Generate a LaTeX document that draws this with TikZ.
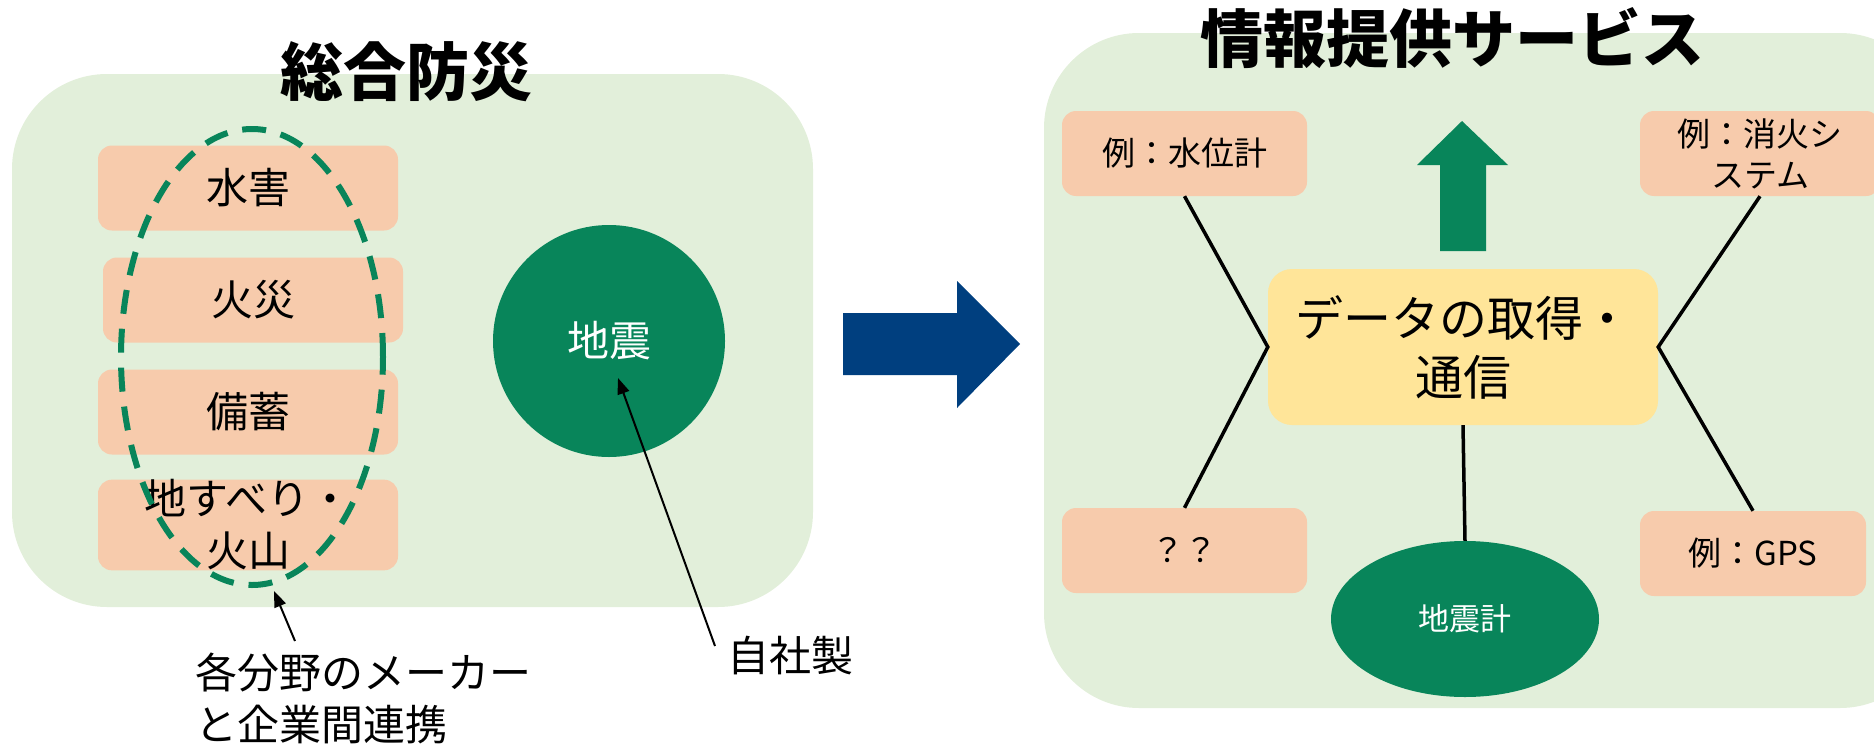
\documentclass[tikz,border=0pt]{standalone}
\usepackage{fontspec}
\setmainfont{Noto Sans CJK JP}
\usetikzlibrary{shapes.geometric,arrows.meta}
\definecolor{panel}{RGB}{226,239,218}
\definecolor{salmon}{RGB}{247,203,172}
\definecolor{dgreen}{RGB}{8,133,90}
\definecolor{yel}{RGB}{255,229,153}
\definecolor{navy}{RGB}{0,63,127}
\tikzset{
  panelbox/.style={fill=panel, rounded corners=95pt},
  title/.style={font=\fontsize{63}{70}\selectfont\bfseries, inner sep=0pt},
  sbox/.style={fill=salmon, rounded corners=14pt, minimum width=300pt, minimum height=85pt, inner sep=0pt, align=center, font=\fontsize{42}{52}\selectfont},
  rbox/.style={fill=salmon, rounded corners=14pt, minimum height=85pt, inner sep=0pt, align=center, font=\fontsize{33}{41}\selectfont},
  dashell/.style={ellipse, draw=dgreen, line width=6pt, dash pattern=on 24pt off 15pt, minimum width=262pt, minimum height=456pt, inner sep=0pt},
  circ/.style={circle, fill=dgreen, text=white, minimum size=232pt, inner sep=0pt, font=\fontsize{42}{50}\selectfont},
  lab/.style={inner sep=0pt, font=\fontsize{42}{52}\selectfont},
  ptr/.style={line width=2pt, -{Triangle[length=16pt,width=12pt]}},
  conn/.style={line width=3.5pt},
  databox/.style={fill=yel, rounded corners=24pt, minimum width=390pt, minimum height=156pt, inner sep=0pt, align=center, font=\fontsize{48}{59}\selectfont},
  sell/.style={ellipse, fill=dgreen, text=white, minimum width=268pt, minimum height=156pt, inner sep=0pt, font=\fontsize{31}{38}\selectfont}
}
\begin{document}
\begin{tikzpicture}[x=1pt,y=-1pt]
\useasboundingbox (0,0) rectangle (1874,744);
\begin{scope}
\clip (0,0) rectangle (1874,744);
% panels
\fill[panelbox] (12,74) rectangle (813,607);
\fill[panelbox] (1044,33) rectangle (1935,708);
% titles
\node[title] (t1) at (406,72) {総合防災};
\node[title] (t2) at (1452,38) {情報提供サービス};
% left panel
\node[sbox] (suigai) at (248,188) {水害};
\node[sbox] (kasai) at (253,300) {火災};
\node[sbox] (bichiku) at (248,412) {備蓄};
\node[sbox] (jisuberi) at (248,525) {地すべり・\\火山};
\node[dashell] (group) at (252,357) {};
\node[circ] (jishin) at (609,341) {地震};
\node[lab, anchor=west, align=left] (maker) at (195,698) {各分野のメーカー\\と企業間連携};
\node[lab, anchor=west] (jisha) at (727,656) {自社製};
\coordinate (mk0) at (295,641);
\coordinate (mk1) at (274,591);
\coordinate (js0) at (715,646);
\coordinate (js1) at (618,378);
\draw[ptr] (mk0) -- (mk1);
\draw[ptr] (js0) -- (js1);
% blue arrow
\fill[navy] (843,313) -- (957,313) -- (957,281) -- (1020,344) -- (957,408) -- (957,375) -- (843,375) -- cycle;
% right panel
\fill[dgreen] (1440,251) -- (1440,165) -- (1417,165) -- (1462,121) -- (1508,165) -- (1486,165) -- (1486,251) -- cycle;
\node[rbox, minimum width=245pt] (suii) at (1184.5,153.5) {例：水位計};
\node[rbox, minimum width=240pt] (shoka) at (1760,153.5) {例：消火シ\\ステム};
\node[rbox, minimum width=245pt] (qq) at (1184.5,550.5) {？？};
\node[rbox, minimum width=226pt] (gps) at (1753,553.5) {例：GPS};
\node[databox] (data) at (1463,347) {データの取得・\\通信};
\node[sell] (seis) at (1465,619) {地震計};
\draw[conn] (suii.south) -- (data.west) -- (qq.north);
\draw[conn] (shoka.south) -- (data.east) -- (gps.north);
\draw[conn] (data.south) -- (seis.north);
\end{scope}
\end{tikzpicture}
\end{document}
